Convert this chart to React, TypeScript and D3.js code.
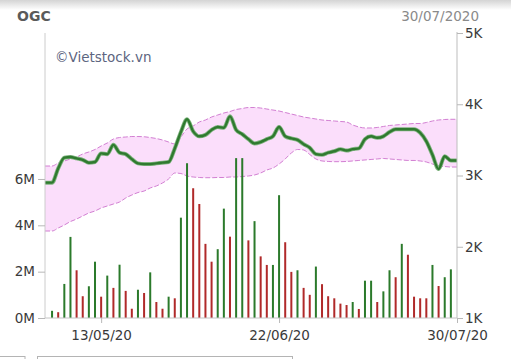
import React, { useEffect, useRef } from 'react'
import * as d3 from 'd3'

// daily volume, millions of shares
const volumes = [
  0.31, 0.25, 1.47, 3.5, 2.06, 0.94, 1.37, 2.43, 0.92, 1.83,
  1.3, 2.3, 1.17, 0.4, 1.22, 1.08, 1.97, 0.69, 0.4, 0.92,
  0.85, 4.33, 6.68, 5.6, 4.92, 3.2, 2.43, 2.97, 4.72, 3.51,
  6.9, 6.9, 3.35, 4.18, 2.66, 2.29, 2.29, 5.3, 3.27, 1.99,
  2.06, 1.3, 1.0, 2.22, 1.46, 0.94, 0.85, 0.62, 0.56, 0.69,
  0.39, 1.61, 1.61, 0.69, 1.15, 2.06, 1.76, 3.2, 2.73, 0.92,
  0.85, 0.85, 2.29, 1.38, 1.76, 2.1,
]

// G = up day, R = down day
const directions = [
  'G', 'R', 'G', 'G', 'R', 'R', 'G', 'G', 'R', 'G',
  'R', 'G', 'R', 'R', 'G', 'R', 'G', 'R', 'R', 'G',
  'R', 'G', 'G', 'R', 'R', 'R', 'R', 'G', 'G', 'R',
  'G', 'G', 'R', 'G', 'R', 'R', 'G', 'G', 'R', 'R',
  'G', 'R', 'R', 'G', 'R', 'R', 'R', 'R', 'R', 'G',
  'R', 'G', 'G', 'R', 'G', 'G', 'R', 'G', 'R', 'R',
  'R', 'R', 'G', 'R', 'G', 'G',
]

const closePrices = [
  2900, 3100, 3250, 3260, 3240, 3220, 3180, 3190, 3310, 3300,
  3430, 3320, 3300, 3230, 3170, 3160, 3160, 3170, 3180, 3190,
  3380, 3610, 3790, 3620, 3550, 3570, 3640, 3680, 3670, 3830,
  3640, 3580, 3510, 3450, 3470, 3510, 3550, 3680, 3550, 3520,
  3500, 3440, 3390, 3300, 3290, 3320, 3340, 3370, 3350, 3370,
  3380, 3510, 3550, 3530, 3550, 3610, 3650, 3650, 3650, 3650,
  3600, 3480, 3290, 3090, 3270, 3210,
]

const upperBand = [
  3133, 3175, 3203, 3232, 3260, 3302, 3330, 3365, 3414, 3456,
  3512, 3533, 3540, 3547, 3547, 3544, 3533, 3519, 3498, 3470,
  3442, 3540, 3653, 3695, 3751, 3779, 3821, 3849, 3877, 3898,
  3926, 3940, 3954, 3954, 3947, 3933, 3919, 3905, 3884, 3863,
  3842, 3821, 3807, 3793, 3779, 3772, 3765, 3758, 3751, 3709,
  3681, 3667, 3667, 3674, 3688, 3702, 3709, 3716, 3723, 3730,
  3730, 3744, 3765, 3779, 3786, 3789,
]

const lowerBand = [
  2221, 2263, 2305, 2354, 2389, 2432, 2474, 2502, 2544, 2572,
  2600, 2628, 2684, 2726, 2761, 2782, 2825, 2853, 2895, 2951,
  3035, 3028, 2993, 2979, 2972, 2969, 2969, 2972, 2972, 2979,
  2979, 2986, 2993, 3007, 3035, 3077, 3105, 3161, 3232, 3316,
  3365, 3358, 3295, 3232, 3204, 3197, 3194, 3194, 3197, 3204,
  3211, 3218, 3225, 3232, 3239, 3232, 3225, 3218, 3211, 3211,
  3204, 3190, 3161, 3133, 3126, 3119,
]

const volumeTicks = [0, 2, 4, 6]
const priceTicks = [1000, 2000, 3000, 4000, 5000]
const dateLabels = ['13/05/20', '22/06/20', '30/07/20']
const dateLabelIndex = [8, 37, 66]

const W = 511
const H = 359
const left = 45
const right = 457
const top = 33
const bottom = 318
const font = 'DejaVu Sans, Verdana, sans-serif'

const App = () => {
  const ref = useRef(null)

  useEffect(() => {
    const svg = d3.select(ref.current)
    svg.selectAll('*').remove()

    const x = d3.scaleLinear().domain([-1.15, 66]).range([left, right])
    const yVol = d3.scaleLinear().domain([0, 12.3]).range([bottom, top])
    const yPrice = d3.scaleLinear().domain([1000, 5000]).range([bottom, top])

    // top shading
    const defs = svg.append('defs')
    const grad = defs.append('linearGradient')
      .attr('id', 'topShade').attr('x1', 0).attr('x2', 0).attr('y1', 0).attr('y2', 1)
    grad.append('stop').attr('offset', '0%').attr('stop-color', '#d4d4d4')
    grad.append('stop').attr('offset', '100%').attr('stop-color', '#ffffff')
    svg.append('rect').attr('x', 0).attr('y', 0).attr('width', W).attr('height', 10)
      .attr('fill', 'url(#topShade)')

    // extend a series flat to both axis edges
    const extend = (s) => [
      [left, s[0]],
      ...s.map((v, i) => [x(i), v]),
      [right, s[s.length - 1]],
    ]

    const lo = extend(lowerBand)
    const band = extend(upperBand).map((p, i) => ({ x: p[0], hi: p[1], lo: lo[i][1] }))

    svg.append('path')
      .datum(band)
      .attr('fill', '#fbdefb')
      .attr('d', d3.area().x(d => d.x).y0(d => yPrice(d.lo)).y1(d => yPrice(d.hi)).curve(d3.curveMonotoneX))

    const line = d3.line().x(d => d[0]).y(d => yPrice(d[1])).curve(d3.curveMonotoneX)

    ;[upperBand, lowerBand].forEach(s => {
      svg.append('path')
        .datum(extend(s))
        .attr('fill', 'none')
        .attr('stroke', '#d27fd2')
        .attr('stroke-width', 1)
        .attr('stroke-dasharray', '5,2')
        .attr('d', line)
    })

    // volume bars
    svg.append('g')
      .selectAll('rect')
      .data(volumes)
      .enter()
      .append('rect')
      .attr('x', (d, i) => x(i) - 1)
      .attr('width', 2)
      .attr('y', d => yVol(d))
      .attr('height', d => bottom - yVol(d))
      .attr('fill', (d, i) => (directions[i] === 'G' ? '#2b7a2b' : '#b02a2a'))

    // price line
    svg.append('path')
      .datum(extend(closePrices))
      .attr('fill', 'none')
      .attr('stroke', '#7fb37f')
      .attr('stroke-width', 4)
      .attr('stroke-linejoin', 'round')
      .attr('d', line)
    svg.append('path')
      .datum(extend(closePrices))
      .attr('fill', 'none')
      .attr('stroke', '#2f7a2f')
      .attr('stroke-width', 2.4)
      .attr('stroke-linejoin', 'round')
      .attr('d', line)

    // axis frame
    svg.append('line').attr('x1', left).attr('x2', left).attr('y1', top).attr('y2', bottom)
      .attr('stroke', '#cccccc')
    svg.append('line').attr('x1', right).attr('x2', right).attr('y1', top - 1).attr('y2', bottom)
      .attr('stroke', '#bdbdbd')
    svg.append('line').attr('x1', left).attr('x2', right).attr('y1', bottom).attr('y2', bottom)
      .attr('stroke', '#c4c4c4')

    const styleAxis = (g) => {
      g.select('.domain').remove()
      g.selectAll('line').attr('stroke', '#b8b8b8')
      g.selectAll('text')
        .attr('fill', '#3a3a3a')
        .style('font-family', font)
        .style('font-size', '13.5px')
    }

    svg.append('g')
      .attr('transform', `translate(${left},0)`)
      .call(d3.axisLeft(yVol).tickValues(volumeTicks).tickFormat(d => `${d}M`).tickSize(7).tickPadding(3))
      .call(styleAxis)

    svg.append('g')
      .attr('transform', `translate(${right},0)`)
      .call(d3.axisRight(yPrice).tickValues(priceTicks).tickFormat(d => `${d / 1000}K`).tickSize(6).tickPadding(2))
      .call(styleAxis)

    svg.append('g')
      .attr('transform', `translate(0,${bottom})`)
      .call(d3.axisBottom(x).tickValues(dateLabelIndex).tickFormat((d, i) => dateLabels[i]).tickSize(5).tickPadding(7))
      .call(styleAxis)

    // titles
    svg.append('text').attr('x', 17).attr('y', 21).text('OGC')
      .attr('fill', '#5a5a5a').style('font-family', font).style('font-size', '14px').style('font-weight', 'bold')
    svg.append('text').attr('x', 479).attr('y', 21).attr('text-anchor', 'end').text('30/07/2020')
      .attr('fill', '#8a8a8a').style('font-family', font).style('font-size', '13.5px')
    svg.append('text').attr('x', 55).attr('y', 62).text('©Vietstock.vn')
      .attr('fill', '#5d6580').style('font-family', font).style('font-size', '13.5px')

    // tab outlines at the bottom
    svg.append('rect').attr('x', -1).attr('y', 356.5).attr('width', 26).attr('height', 10)
      .attr('fill', 'white').attr('stroke', '#b4b4b4')
    svg.append('rect').attr('x', 37.5).attr('y', 356.5).attr('width', 255).attr('height', 10)
      .attr('fill', 'white').attr('stroke', '#b4b4b4')
  }, [])

  return (
    <svg
      ref={ref}
      width={W}
      height={H}
      style={{ position: 'absolute', left: 0, top: 0, background: 'white' }}
    />
  )
}

export default App
